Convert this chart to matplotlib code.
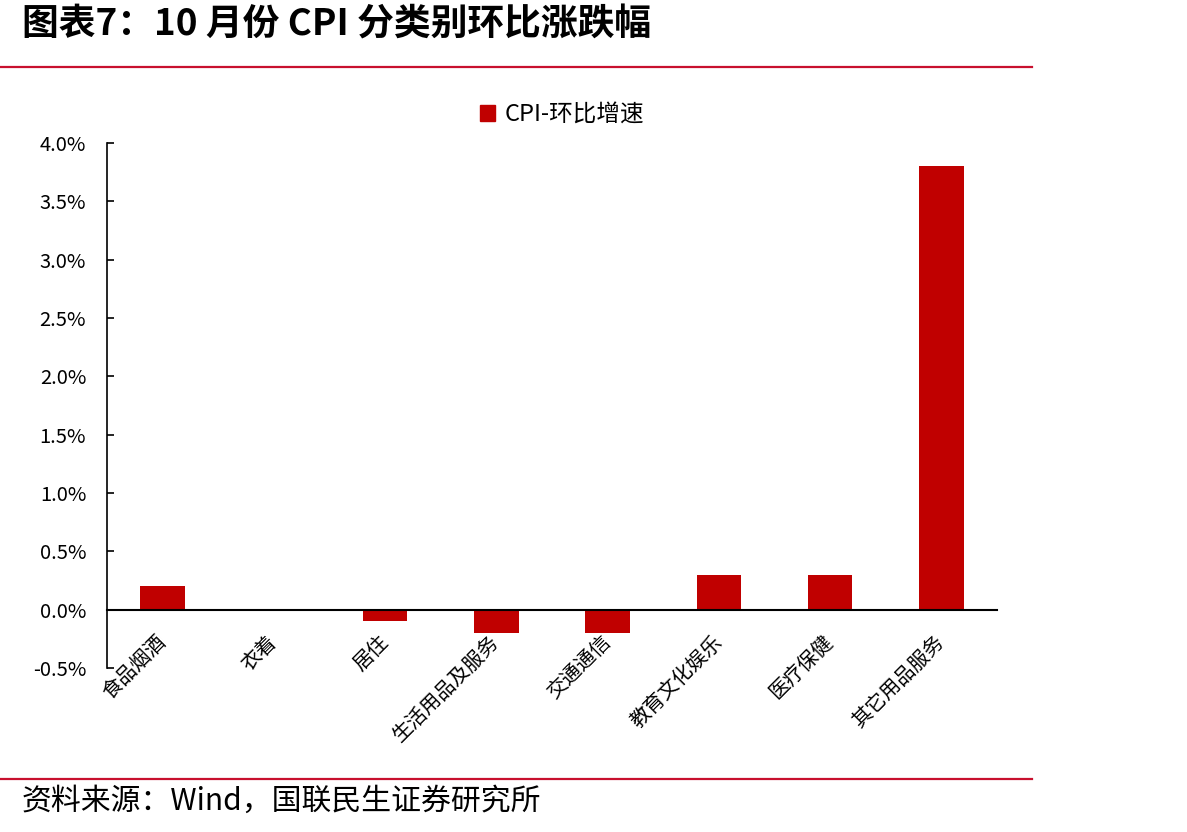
import matplotlib
matplotlib.use('Agg')
import matplotlib.pyplot as plt
from matplotlib.lines import Line2D
from matplotlib.ticker import FuncFormatter, MultipleLocator

plt.rcParams['font.family'] = ['Noto Sans CJK SC', 'DejaVu Sans']

# data (%)
categories = ['食品烟酒', '衣着', '居住', '生活用品及服务', '交通通信',
              '教育文化娱乐', '医疗保健', '其它用品服务']
mom = [0.2, 0.0, -0.1, -0.2, -0.2, 0.3, 0.3, 3.8]

red = '#C00000'

fig = plt.figure(figsize=(11.87, 8.32), dpi=100)
ax = fig.add_axes([107/1187, 1-668/832, (997-107)/1187, (668-143)/832])

x = list(range(len(categories)))
ax.bar(x, mom, width=0.4, color=red, label='CPI-环比增速', zorder=2)

ax.set_xlim(-0.5, len(categories) - 0.5)
ax.set_ylim(-0.5, 4.0)
ax.yaxis.set_major_locator(MultipleLocator(0.5))
ax.yaxis.set_major_formatter(FuncFormatter(lambda v, p: '%.1f%%' % v))
ax.tick_params(axis='y', direction='in', length=5, width=1.2, labelsize=14.5, pad=15)

ax.spines['top'].set_visible(False)
ax.spines['right'].set_visible(False)
ax.spines['left'].set_linewidth(1.2)
ax.spines['bottom'].set_position(('data', 0))
ax.spines['bottom'].set_linewidth(1.5)
ax.spines['bottom'].set_zorder(3)

ax.set_xticks(x)
ax.set_xticklabels(categories, rotation=45, ha='right', va='center',
                   rotation_mode='anchor', fontsize=14.5)
ax.tick_params(axis='x', length=0, pad=21)

# legend above plot
fig.legend(handles=[plt.Rectangle((0, 0), 1, 1, color=red)], labels=['CPI-环比增速'],
           loc='center', bbox_to_anchor=(562/1187, 1-115/832), frameon=False,
           fontsize=17, handlelength=0.65, handleheight=0.65, handletextpad=0.4)

# title, rules, source
fig.text(22/1187, 1-25/832, '图表7：10 月份 CPI 分类别环比涨跌幅', fontsize=26.5,
         fontweight='bold', ha='left', va='center')
fig.add_artist(Line2D([0, 1032/1187], [1-67/832, 1-67/832], color='#C8102E', lw=1.6))
fig.add_artist(Line2D([0, 1032/1187], [1-779/832, 1-779/832], color='#C8102E', lw=1.6))
fig.text(22/1187, 1-801/832, '资料来源：Wind，国联民生证券研究所', fontsize=21.5,
         ha='left', va='center')

fig.savefig('out.png', dpi=100)
